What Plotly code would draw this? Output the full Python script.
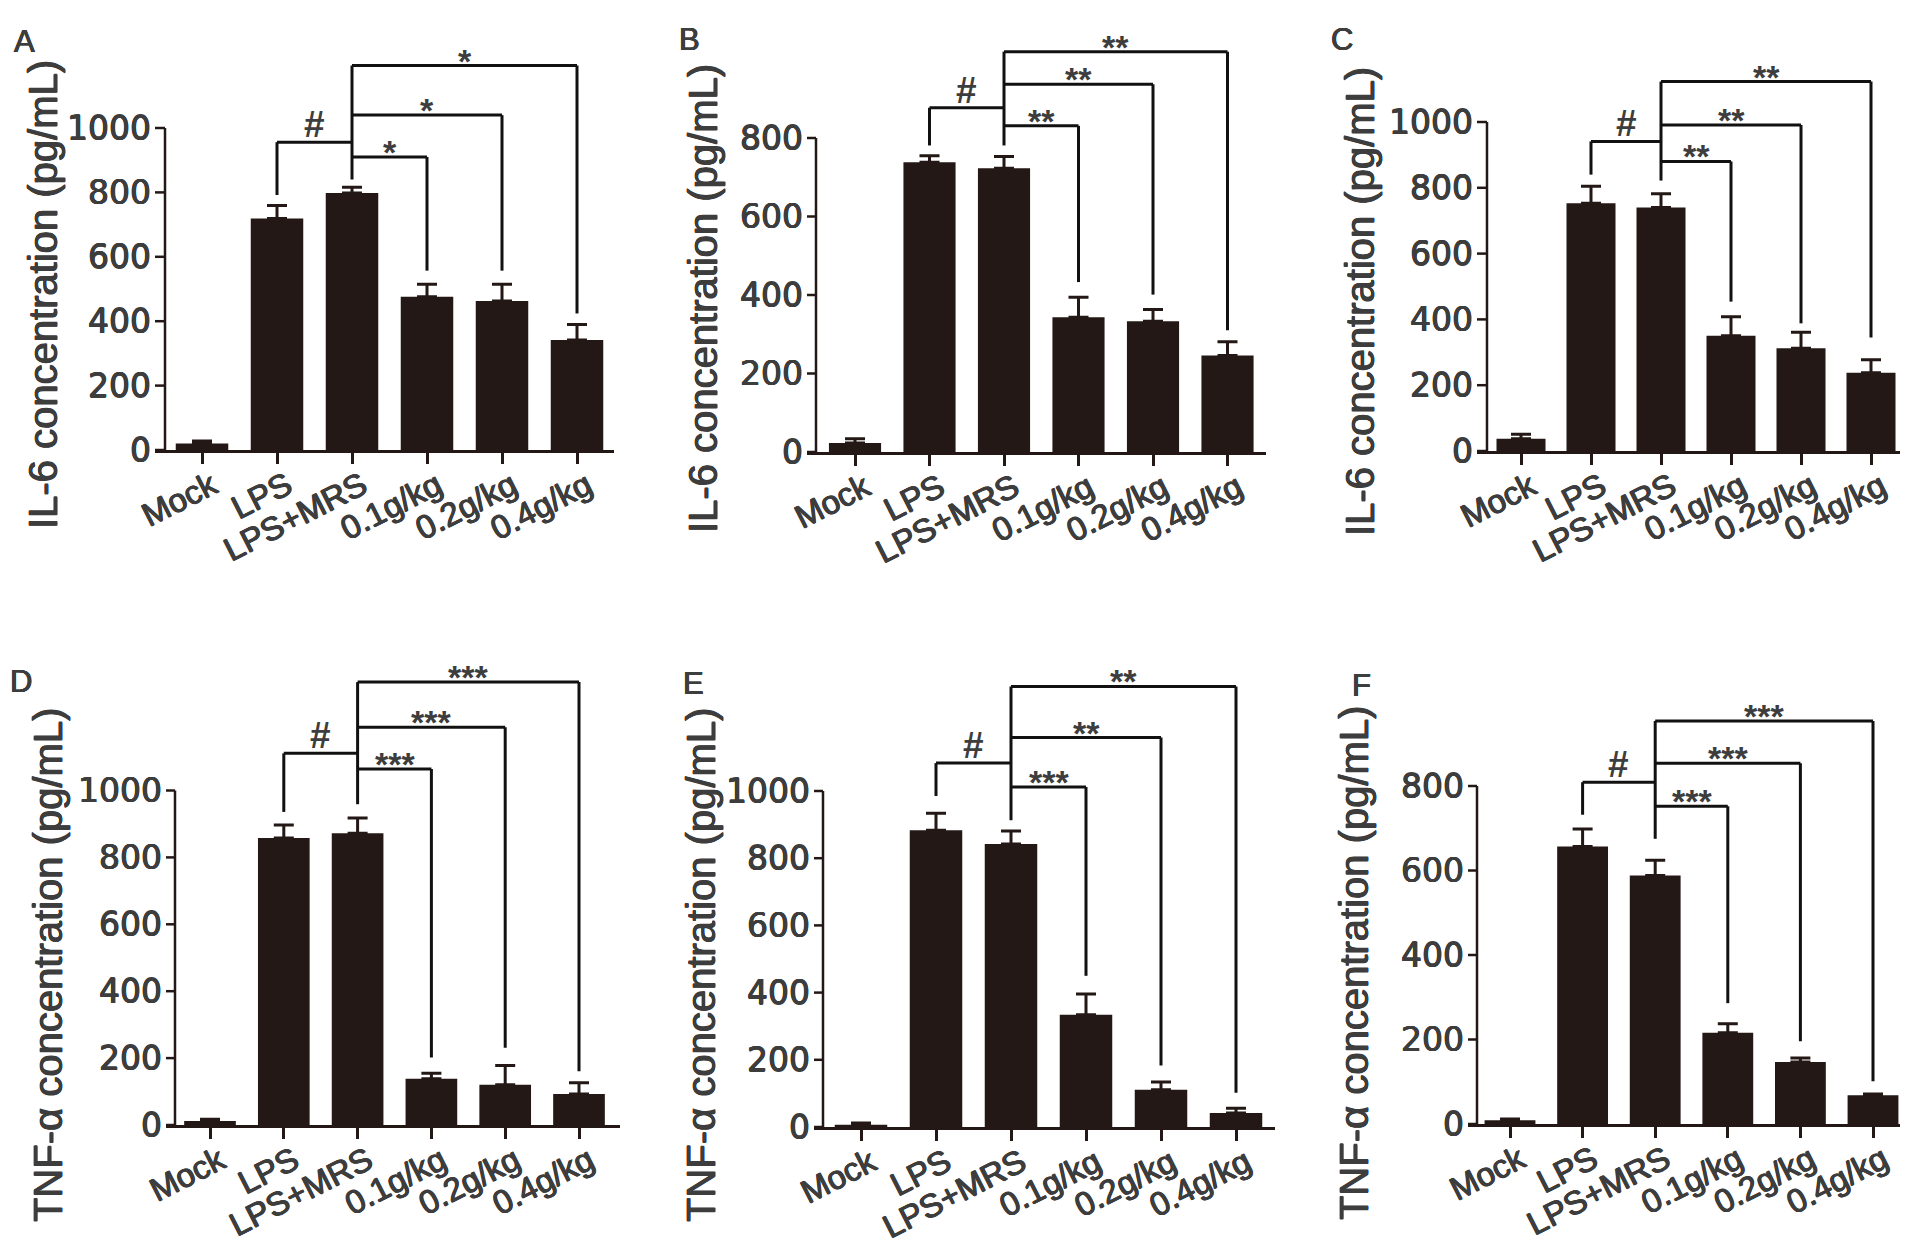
import plotly.graph_objects as go

W, H = 1908, 1249

# ---------------- data ----------------
categories = ["Mock", "LPS", "LPS+MRS", "0.1g/kg", "0.2g/kg", "0.4g/kg"]
panel_letters = ["A", "B", "C", "D", "E", "F"]
y_titles = ["IL-6 concentration (pg/mL)"] * 3 + ["TNF-α concentration (pg/mL)"] * 3

A_mean = [20, 719, 798, 476, 463, 342]
A_sem = [8, 40, 18, 39, 52, 48]
B_mean = [23, 738, 723, 343, 333, 246]
B_sem = [11, 17, 30, 51, 30, 35]
C_mean = [37, 753, 740, 350, 312, 238]
C_sem = [14, 52, 42, 58, 49, 39]
D_mean = [12, 858, 872, 138, 120, 93]
D_sem = [5, 39, 46, 17, 58, 33]
E_mean = [7, 883, 842, 334, 111, 42]
E_sem = [5, 51, 39, 62, 23, 14]
F_mean = [9, 657, 588, 216, 147, 68]
F_sem = [3, 41, 36, 21, 9, 3]

A_ticks = [0, 200, 400, 600, 800, 1000]
B_ticks = [0, 200, 400, 600, 800]
C_ticks = [0, 200, 400, 600, 800, 1000]
D_ticks = [0, 200, 400, 600, 800, 1000]
E_ticks = [0, 200, 400, 600, 800, 1000]
F_ticks = [0, 200, 400, 600, 800]

# "#" bracket: [height, LPS leg end, LPS+MRS leg end]
A_hash = [956, 792, 840]
B_hash = [877, 781, 781]
C_hash = [941, 840, 822]
D_hash = [1111, 936, 959]
E_hash = [1083, 985, 913]
F_hash = [809, 732, 675]

# comparisons of LPS+MRS vs 0.1 / 0.2 / 0.4 g/kg
A_cmp_h = [910, 1040, 1194]
A_cmp_leg = [557, 557, 424]
A_marks = ["*", "*", "*"]
B_cmp_h = [831, 937, 1020]
B_cmp_leg = [433, 401, 310]
B_marks = ["**", "**", "**"]
C_cmp_h = [880, 991, 1123]
C_cmp_leg = [454, 388, 345]
C_marks = ["**", "**", "**"]
D_cmp_h = [1064, 1189, 1324]
D_cmp_leg = [202, 231, 161]
D_marks = ["***", "***", "***"]
E_cmp_h = [1012, 1159, 1311]
E_cmp_leg = [450, 183, 102]
E_marks = ["***", "**", "**"]
F_cmp_h = [752, 854, 954]
F_cmp_leg = [286, 196, 101]
F_marks = ["***", "***", "***"]

panels_data = [
    (A_mean, A_sem, A_ticks, A_hash, A_cmp_h, A_cmp_leg, A_marks),
    (B_mean, B_sem, B_ticks, B_hash, B_cmp_h, B_cmp_leg, B_marks),
    (C_mean, C_sem, C_ticks, C_hash, C_cmp_h, C_cmp_leg, C_marks),
    (D_mean, D_sem, D_ticks, D_hash, D_cmp_h, D_cmp_leg, D_marks),
    (E_mean, E_sem, E_ticks, E_hash, E_cmp_h, E_cmp_leg, E_marks),
    (F_mean, F_sem, F_ticks, F_hash, F_cmp_h, F_cmp_leg, F_marks),
]

# ---------------- geometry (pixels) ----------------
geom = [
    dict(c0=194, step=75.0, left=147, right=606, axis=157, y0=442, ppu=0.322, top=10,
         tx=35, ty=287, lx=4, ly=14),
    dict(c0=847, step=74.5, left=799, right=1258, axis=808, y0=444, ppu=0.3925, top=10,
         tx=695, ty=291, lx=669, ly=12),
    dict(c0=1513, step=70.0, left=1469, right=1897, axis=1479, y0=443, ppu=0.329, top=10,
         tx=1352, ty=294, lx=1321, ly=12),
    dict(c0=202, step=73.8, left=158, right=612, axis=167, y0=1117, ppu=0.3345, top=648,
         tx=40, ty=957, lx=0, ly=654),
    dict(c0=853, step=75.0, left=806, right=1267, axis=815, y0=1119, ppu=0.336, top=648,
         tx=693, ty=957, lx=673, ly=656),
    dict(c0=1502, step=72.6, left=1460, right=1895, axis=1469, y0=1116, ppu=0.4225, top=648,
         tx=1346, ty=955, lx=1342, ly=658),
]

BAR = "#231815"
LINE = "#111111"
TXT = "#3d3d3d"
FONT = "Liberation Sans"
HEAVY = "0.6px 0 0 #3d3d3d, -0.6px 0 0 #3d3d3d, 0 0.4px 0 #3d3d3d, 0 -0.4px 0 #3d3d3d"

fig = go.Figure()
shapes = []
annotations = []
layout = {}

for i, ((mean, sem, ticks, hsh, cmp_h, cmp_leg, marks), g) in enumerate(zip(panels_data, geom)):
    n = i + 1
    xa = "x" if n == 1 else f"x{n}"
    ya = "y" if n == 1 else f"y{n}"
    xkey = "xaxis" if n == 1 else f"xaxis{n}"
    ykey = "yaxis" if n == 1 else f"yaxis{n}"
    pos = list(range(len(categories)))

    fig.add_trace(go.Bar(
        x=pos, y=mean, width=0.7, marker=dict(color=BAR, line=dict(width=0)),
        error_y=dict(type="data", symmetric=False, array=sem, arrayminus=[0] * len(sem),
                     color=BAR, thickness=3, width=10),
        xaxis=xa, yaxis=ya, showlegend=False, hoverinfo="skip",
    ))

    xr = [(g["left"] - g["c0"]) / g["step"], (g["right"] - g["c0"]) / g["step"]]
    yr = [0, (g["y0"] - g["top"]) / g["ppu"]]
    layout[xkey] = dict(
        domain=[g["left"] / W, g["right"] / W], range=xr, anchor=ya, automargin=False,
        tickvals=pos, ticktext=categories, tickangle=-27,
        ticklabelstandoff=-10, ticklabelshift=10,
        showline=True, linecolor=BAR, linewidth=2.5,
        ticks="outside", ticklen=11, tickwidth=2.5, tickcolor=BAR,
        tickfont=dict(family=FONT, size=33, color=TXT, shadow=HEAVY),
        showgrid=False, zeroline=False, fixedrange=True,
    )
    layout[ykey] = dict(
        domain=[1 - g["y0"] / H, 1 - g["top"] / H], range=yr, anchor=xa, automargin=False,
        tickvals=ticks, ticktext=[str(t) for t in ticks],
        showline=False, ticks="", ticklabelstandoff=3,
        tickfont=dict(family="DejaVu Sans", size=33, color=TXT, shadow=HEAVY),
        showgrid=False, zeroline=False, fixedrange=True,
    )

    axv = (g["axis"] - g["c0"]) / g["step"]
    # y axis line and ticks
    shapes.append(dict(type="line", xref=xa, yref=ya, xsizemode="pixel", xanchor=axv,
                       x0=0, x1=0, y0=0, y1=ticks[-1], line=dict(color=BAR, width=2.5)))
    for t in ticks:
        shapes.append(dict(type="line", xref=xa, yref=ya, xsizemode="pixel", xanchor=axv,
                           x0=-12, x1=0, y0=t, y1=t, line=dict(color=BAR, width=2.5)))

    def seg(x0, y0, x1, y1):
        shapes.append(dict(type="line", xref=xa, yref=ya, x0=x0, y0=y0, x1=x1, y1=y1,
                           line=dict(color=LINE, width=3)))

    # "#" bracket LPS vs LPS+MRS
    seg(1, hsh[1], 1, hsh[0])
    seg(1, hsh[0], 2, hsh[0])
    annotations.append(dict(x=1.5, y=hsh[0], xref=xa, yref=ya, text="<b>#</b>", showarrow=False,
                            yanchor="bottom", yshift=-5,
                            font=dict(family=FONT, size=37, color=TXT)))
    # central vertical from LPS+MRS
    seg(2, hsh[2], 2, max(cmp_h))
    for k, (hh, lg, mk) in enumerate(zip(cmp_h, cmp_leg, marks)):
        xe = 3 + k
        seg(2, hh, xe, hh)
        seg(xe, hh, xe, lg)
        annotations.append(dict(x=(2 + xe) / 2, y=hh, xref=xa, yref=ya, text=f"<b>{mk}</b>",
                                showarrow=False, yanchor="bottom", yshift=-16,
                                font=dict(family=FONT, size=34, color=TXT)))

    # y title
    annotations.append(dict(x=g["tx"] / W, y=1 - g["ty"] / H, xref="paper", yref="paper",
                            text=y_titles[i], textangle=-90, showarrow=False,
                            xanchor="center", yanchor="middle",
                            font=dict(family=FONT, size=40, color=TXT, shadow=HEAVY)))
    # panel letter
    annotations.append(dict(x=g["lx"] / W, y=1 - g["ly"] / H, xref="paper", yref="paper",
                            text=panel_letters[i], showarrow=False,
                            xanchor="left", yanchor="top",
                            font=dict(family=FONT, size=31, color=TXT, shadow=HEAVY)))

fig.update_layout(
    width=W, height=H, margin=dict(l=0, r=0, t=0, b=0, autoexpand=False),
    paper_bgcolor="white", plot_bgcolor="white",
    shapes=shapes, annotations=annotations, bargap=0.3,
    **layout,
)

fig.write_html("out.html")
